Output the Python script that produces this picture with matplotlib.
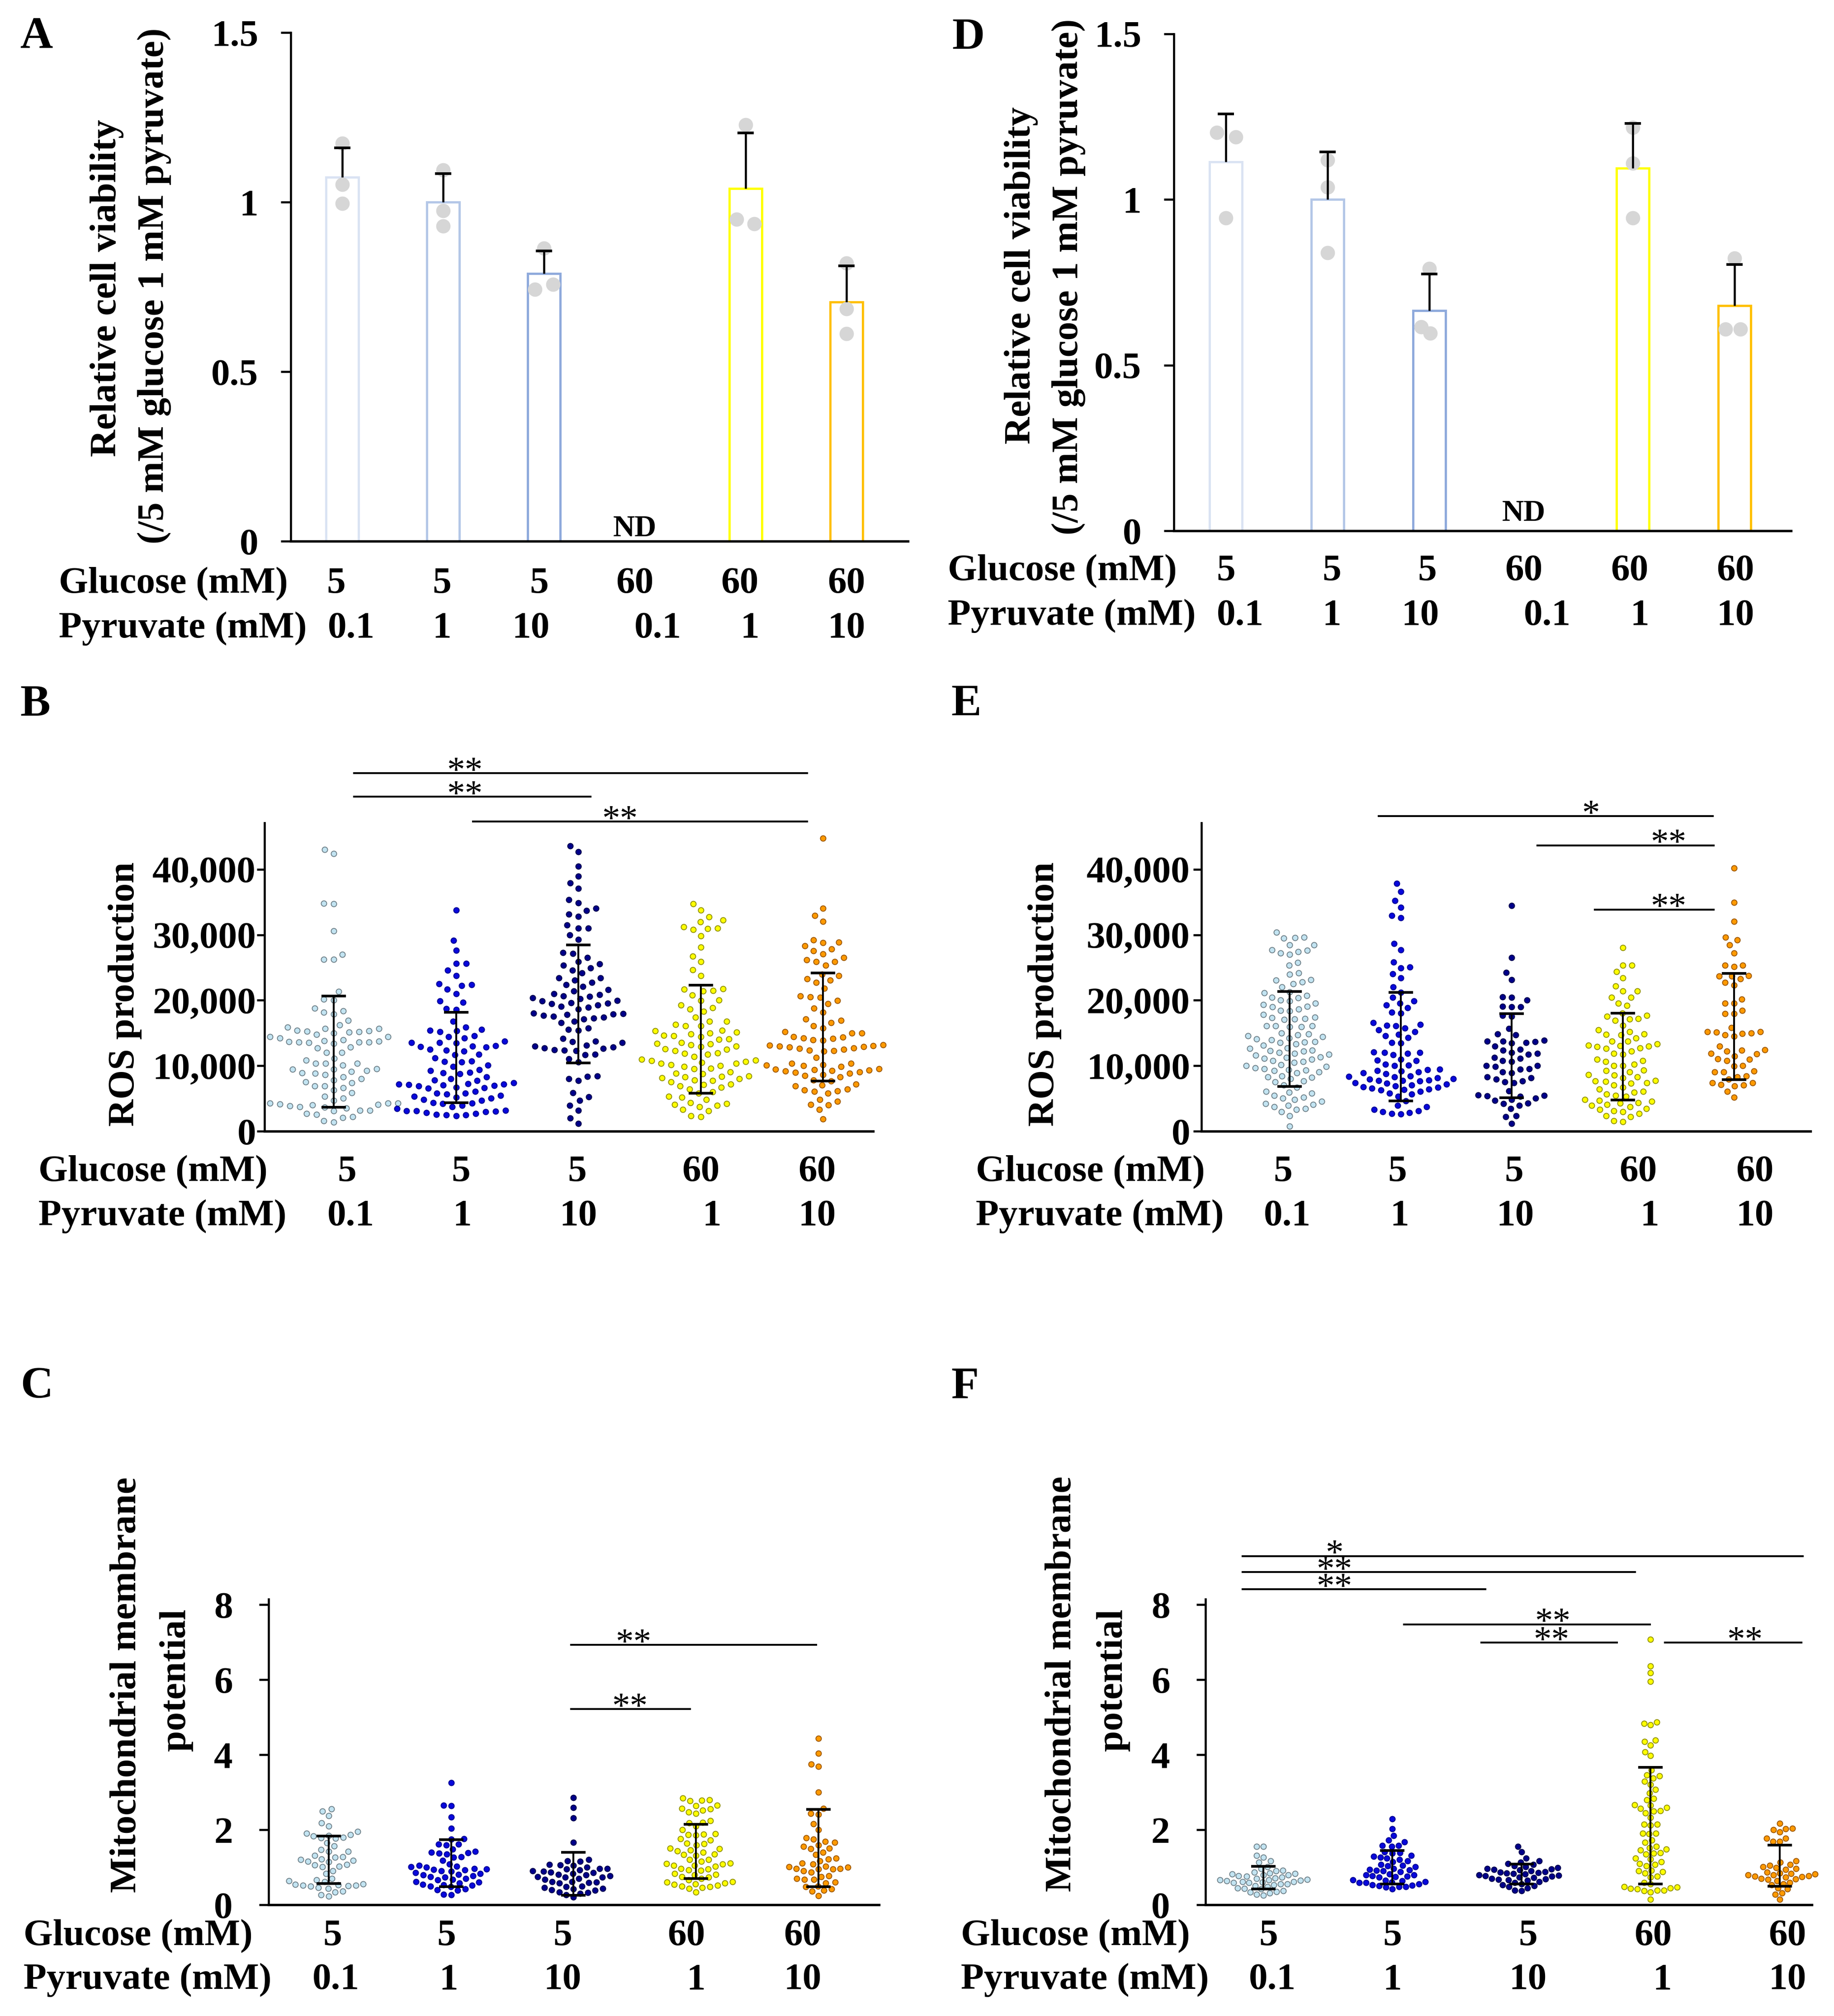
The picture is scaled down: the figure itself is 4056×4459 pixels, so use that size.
import numpy as np
import matplotlib
matplotlib.use("Agg")
import matplotlib.pyplot as plt
from matplotlib import transforms

plt.rcParams['font.family'] = ['Liberation Serif', 'DejaVu Serif']
plt.rcParams['font.weight'] = 'bold'

# ---------------------------------------------------------------- data
glucose6 = ['5', '5', '5', '60', '60', '60']
pyruvate6 = ['0.1', '1', '10', '0.1', '1', '10']
glucose5 = ['5', '5', '5', '60', '60']
pyruvate5 = ['0.1', '1', '10', '1', '10']

# Panel A: relative cell viability (ND = not determined -> nan)
A_mean = [1.074, 1.0, 0.79, np.nan, 1.04, 0.706]
A_err = [0.086, 0.084, 0.066, np.nan, 0.164, 0.106]
A_pts = [[1.173, 1.052, 0.996], [1.095, 0.975, 0.93], [0.864, 0.743, 0.757], [],
         [1.228, 0.95, 0.936], [0.82, 0.686, 0.612]]

# Panel D
D_mean = [1.114, 1.0, 0.665, np.nan, 1.094, 0.68]
D_err = [0.144, 0.144, 0.11, np.nan, 0.136, 0.124]
D_pts = [[1.203, 1.189, 0.944], [1.119, 1.037, 0.839], [0.792, 0.615, 0.596], [],
         [1.217, 1.109, 0.944], [0.823, 0.609, 0.609]]

# Panel B: ROS production
B1 = [43040, 42410, 34810, 34740, 30580, 27010, 26260, 26260, 21350, 20190, 20030, 18780, 18370, 18150,
      17900, 16900, 16210, 15900, 15710, 15710, 15430, 15340, 15270, 15180, 15120, 14960, 14800, 14400,
      14400, 14240, 13930, 13830, 13710, 13680, 13620, 13620, 13620, 13520, 13400, 12830, 12680, 12050,
      12050, 11110, 10860, 10390, 10390, 10330, 10080, 9550, 9450, 9450, 9230, 9140, 8920, 8830, 8610,
      8290, 7980, 7830, 7510, 7420, 6890, 6890, 6640, 6260, 5850, 5320, 5070, 4700, 4290, 4290, 4290,
      4130, 4070, 3980, 3850, 3760, 3690, 3510, 3190, 3190, 3130, 2660, 2570, 2190, 2100, 1570, 1410]
B2 = [33770, 29110, 27640, 25600, 25600, 24570, 23790, 22540, 22380, 22220, 21690, 20970, 19880, 19660,
      18690, 18560, 16750, 15900, 15560, 15430, 15340, 15180, 14550, 14460, 14240, 13710, 13520, 13520,
      13460, 13050, 12990, 12900, 12830, 12520, 12360, 12210, 11740, 11640, 11210, 10700, 10640, 10550,
      10080, 9860, 9390, 9230, 8980, 8920, 8760, 8290, 8040, 7830, 7730, 7420, 7260, 7200, 7200, 7110,
      7040, 6950, 6890, 6730, 6640, 6570, 6100, 5790, 5790, 5630, 5480, 5320, 5160, 5010, 4850, 4700,
      4380, 4290, 4230, 3910, 3760, 3440, 3190, 3130, 3130, 3040, 2970, 2820, 2660, 2570, 2500, 2500, 2350]
B3 = [43570, 42660, 40470, 38940, 37940, 37120, 35370, 34900, 34020, 33710, 33180, 32800, 31460, 30990,
      30990, 29990, 29270, 27290, 27140, 26510, 25890, 25570, 25320, 24950, 24570, 24160, 23440, 23410,
      23070, 22690, 22380, 22130, 21600, 21440, 20970, 20880, 20660, 20560, 20350, 20250, 19940, 19880,
      19630, 19560, 19470, 19250, 19090, 18940, 18620, 18000, 17930, 17900, 17840, 17680, 17530, 17370,
      17280, 17120, 16810, 16590, 15740, 15560, 15430, 14180, 13770, 13680, 13520, 13150, 12990, 12830,
      12680, 12610, 12430, 12360, 12270, 11740, 11640, 11020, 10550, 8450, 8360, 8040, 7730, 5850, 5230,
      4700, 3910, 3190, 2030, 1190]
B4 = [34740, 33770, 32710, 32240, 31960, 31210, 30990, 30920, 30830, 29830, 28080, 26760, 25890, 24660,
      23790, 21750, 21690, 21500, 21440, 20810, 20030, 19970, 19250, 18870, 18620, 18310, 17370, 16810,
      16750, 16280, 16120, 16060, 15430, 15340, 15120, 14960, 14870, 14620, 14550, 14460, 14090, 13990,
      13520, 13400, 13300, 13210, 12990, 12900, 12580, 12520, 12300, 11960, 11890, 11740, 11420, 10960,
      10860, 10740, 10640, 10490, 10390, 10330, 10170, 10020, 9860, 9610, 9550, 9080, 8860, 8760, 8450,
      8360, 8290, 8140, 8040, 7830, 7730, 7510, 7200, 7110, 6890, 6730, 6420, 6040, 5790, 5320, 5160,
      4850, 4380, 4230, 4070, 3910, 3760, 3290, 3130, 2350, 2190]
B5 = [44760, 34020, 32930, 32020, 29200, 28890, 28800, 28330, 27860, 27540, 27070, 26540, 26140, 25890,
      25890, 25350, 23940, 23790, 23260, 23070, 22690, 21820, 20660, 20500, 20440, 19940, 19470, 18780,
      18150, 17120, 16900, 16590, 16120, 15740, 15180, 15020, 14960, 14400, 14340, 14240, 14180, 13930,
      13870, 13210, 13150, 13050, 12990, 12900, 12830, 12680, 12610, 12520, 12360, 12300, 12210, 11270,
      10390, 10330, 10170, 10080, 10020, 9860, 9550, 9450, 9390, 9300, 9230, 9170, 9080, 8980, 8830,
      8610, 8510, 8290, 7830, 7670, 7200, 7040, 6890, 6420, 6260, 6170, 6100, 5790, 4850, 4540, 4070,
      3980, 3290, 1880]
B_mean = [12175, 11235, 19420, 14040, 15930]
B_sd = [8485, 6915, 9000, 8250, 8260]

# Panel E: ROS production
E1 = [30360, 29640, 29580, 29520, 28480, 28480, 27700, 27610, 27450, 27230, 27010, 25760, 25320, 24190,
      23940, 23160, 23070, 22790, 22540, 22000, 21280, 21130, 20720, 20440, 20350, 20030, 19880, 19560,
      19310, 19090, 19000, 18620, 18470, 18370, 17840, 17430, 17310, 17220, 17120, 17060, 16120, 16120,
      16060, 15960, 15960, 15020, 14870, 14710, 14550, 14400, 14240, 14090, 13930, 13680, 13620, 13550,
      13300, 13150, 12740, 12610, 12360, 12270, 12210, 12050, 11890, 11740, 11580, 11360, 11270, 11110,
      10960, 10800, 10640, 10490, 10170, 10020, 9860, 9700, 9550, 9390, 9300, 9230, 9080, 8920, 8450,
      8290, 8230, 7980, 7670, 7510, 7040, 6730, 6100, 5950, 5790, 5480, 5160, 5010, 4850, 4540, 4230,
      4070, 3910, 3760, 3440, 3290, 2970, 2350, 780]
E2 = [37840, 36590, 35240, 34180, 32960, 32580, 28640, 27670, 25820, 25100, 24950, 24010, 23380, 22000,
      21190, 20410, 19880, 19560, 19250, 18870, 18150, 18000, 16590, 16280, 16180, 16120, 15740, 15490,
      15180, 14800, 14550, 14300, 13550, 13460, 12110, 12050, 11990, 11890, 11670, 10960, 10860, 10800,
      10240, 10080, 10020, 9480, 9390, 9230, 9170, 9080, 8920, 8760, 8450, 8360, 8290, 8140, 8040, 7920,
      7830, 7760, 7730, 7670, 7360, 7290, 7200, 7040, 6890, 6790, 6730, 6570, 6420, 6350, 6260, 6100,
      5790, 5630, 5320, 4600, 3910, 3760, 3290, 3130, 2970, 2820, 2660, 2600]
E3 = [34490, 26540, 24260, 23160, 20500, 20440, 20030, 19090, 19000, 19000, 17680, 17530, 15650, 14870,
      14710, 13870, 13770, 13770, 13680, 13550, 13460, 12990, 12520, 12360, 12050, 11890, 11740, 11270,
      11110, 10800, 10640, 10020, 10020, 9860, 9550, 9480, 9080, 8920, 8290, 8140, 7920, 7670, 7510,
      7360, 6170, 5540, 5480, 5410, 5320, 5010, 4850, 4700, 4290, 4230, 3910, 3440, 2350, 2190, 1160]
E4 = [28010, 25350, 25350, 24350, 23380, 22190, 21380, 21380, 20440, 20440, 19560, 19190, 18000, 17680,
      17530, 17220, 17120, 16900, 16180, 15490, 15180, 14870, 14800, 14710, 14240, 13770, 13770, 13300,
      13150, 13050, 12990, 12930, 12680, 12610, 12210, 11890, 11740, 10960, 10800, 10640, 10240, 10020,
      10020, 9300, 9230, 9080, 8610, 8540, 8290, 8140, 7730, 7670, 7610, 7360, 7290, 7040, 6730, 6420,
      6100, 5950, 5630, 5480, 5320, 4850, 4700, 4540, 4380, 4290, 4070, 3910, 3760, 3440, 3290, 3130,
      2970, 2660, 2350, 2190, 1570, 1470]
E5 = [40220, 34960, 32020, 29640, 29200, 28420, 27200, 25350, 25350, 25130, 23790, 23690, 23690, 23260,
      22690, 22290, 20190, 19560, 19560, 18470, 17930, 17930, 15810, 15180, 15180, 15120, 15020, 14930,
      14710, 14490, 12990, 12430, 12360, 12210, 11890, 11800, 11490, 11050, 10960, 10800, 10020, 9920,
      9170, 9080, 9080, 8450, 8290, 7920, 7420, 7360, 7110, 7040, 6890, 6100, 5160]
E_mean = [14085, 12895, 11515, 11395, 15995]
E_sd = [7265, 8295, 6415, 6605, 8105]

# Panel C: mitochondrial membrane potential
C1 = [2.56, 2.49, 2.37, 2.18, 2.10, 1.95, 1.91, 1.87, 1.85, 1.83, 1.80, 1.78, 1.77, 1.65, 1.57, 1.47,
      1.42, 1.42, 1.32, 1.28, 1.26, 1.22, 1.20, 1.18, 1.16, 1.14, 1.07, 1.06, 1.03, 1.01, 0.91, 0.83,
      0.70, 0.66, 0.64, 0.62, 0.56, 0.54, 0.53, 0.52, 0.52, 0.51, 0.50, 0.46, 0.44, 0.36, 0.34, 0.27, 0.23]
C2 = [3.25, 2.65, 2.64, 2.34, 2.04, 1.76, 1.75, 1.62, 1.61, 1.59, 1.48, 1.42, 1.40, 1.39, 1.37, 1.35,
      1.28, 1.26, 1.18, 1.09, 1.05, 1.03, 1.01, 1.00, 0.97, 0.95, 0.94, 0.93, 0.91, 0.89, 0.85, 0.83,
      0.81, 0.79, 0.77, 0.75, 0.73, 0.70, 0.68, 0.66, 0.62, 0.60, 0.58, 0.54, 0.53, 0.52, 0.50, 0.48,
      0.42, 0.40, 0.38, 0.28, 0.27]
C3 = [2.86, 2.59, 2.31, 1.66, 1.20, 1.17, 1.16, 1.07, 1.06, 1.05, 1.00, 0.97, 0.96, 0.95, 0.93, 0.91,
      0.89, 0.87, 0.86, 0.83, 0.81, 0.79, 0.77, 0.75, 0.73, 0.73, 0.70, 0.68, 0.62, 0.61, 0.60, 0.59,
      0.58, 0.50, 0.48, 0.46, 0.44, 0.42, 0.40, 0.38, 0.34, 0.32, 0.30, 0.27, 0.20]
C4 = [2.84, 2.80, 2.78, 2.77, 2.65, 2.64, 2.57, 2.55, 2.52, 2.47, 2.43, 2.24, 2.20, 2.18, 2.10, 2.00,
      1.89, 1.88, 1.87, 1.86, 1.76, 1.73, 1.64, 1.63, 1.59, 1.51, 1.50, 1.46, 1.44, 1.40, 1.35, 1.34,
      1.32, 1.21, 1.20, 1.16, 1.11, 1.10, 1.09, 1.05, 1.05, 1.03, 0.97, 0.95, 0.93, 0.92, 0.83, 0.81,
      0.80, 0.75, 0.73, 0.70, 0.66, 0.62, 0.60, 0.58, 0.56, 0.54, 0.52, 0.50, 0.48, 0.46, 0.44, 0.34]
C5 = [4.44, 4.04, 3.75, 3.69, 3.00, 2.57, 2.44, 2.41, 2.16, 2.00, 1.79, 1.75, 1.69, 1.66, 1.59, 1.55,
      1.51, 1.50, 1.40, 1.34, 1.24, 1.22, 1.17, 1.11, 1.09, 1.03, 1.01, 1.00, 0.97, 0.96, 0.95, 0.95,
      0.91, 0.87, 0.77, 0.75, 0.70, 0.68, 0.68, 0.60, 0.58, 0.50, 0.48, 0.42, 0.38, 0.36, 0.24]
C_mean = [1.20, 1.11, 0.825, 1.425, 1.51]
C_sd = [0.63, 0.63, 0.575, 0.725, 1.03]

# Panel F: mitochondrial membrane potential
F1 = [1.55, 1.55, 1.31, 1.27, 1.17, 1.13, 1.01, 0.96, 0.92, 0.90, 0.87, 0.84, 0.83, 0.82, 0.80, 0.79,
      0.77, 0.76, 0.73, 0.71, 0.70, 0.68, 0.66, 0.66, 0.65, 0.64, 0.62, 0.62, 0.60, 0.59, 0.59, 0.56,
      0.55, 0.53, 0.51, 0.48, 0.45, 0.43, 0.42, 0.37, 0.35, 0.34, 0.31, 0.28, 0.25]
F2 = [2.29, 2.02, 1.84, 1.72, 1.67, 1.58, 1.58, 1.56, 1.41, 1.39, 1.38, 1.32, 1.29, 1.27, 1.24, 1.21,
      1.17, 1.15, 1.07, 1.05, 1.04, 1.01, 0.96, 0.94, 0.93, 0.92, 0.90, 0.88, 0.82, 0.79, 0.79, 0.77,
      0.76, 0.75, 0.73, 0.66, 0.65, 0.64, 0.62, 0.60, 0.59, 0.59, 0.56, 0.53, 0.52, 0.51, 0.48, 0.48,
      0.47, 0.42]
F3 = [1.56, 1.41, 1.24, 1.17, 1.13, 1.10, 1.07, 1.04, 1.01, 0.99, 0.96, 0.95, 0.94, 0.93, 0.90, 0.88,
      0.87, 0.85, 0.84, 0.83, 0.82, 0.79, 0.78, 0.77, 0.76, 0.73, 0.72, 0.70, 0.69, 0.68, 0.66, 0.65,
      0.62, 0.59, 0.56, 0.53, 0.51, 0.48, 0.45, 0.39, 0.37]
F4 = [7.08, 6.37, 6.18, 5.95, 4.87, 4.83, 4.80, 4.39, 4.35, 4.26, 4.08, 3.98, 3.59, 3.46, 3.43, 3.38,
      3.29, 3.21, 3.08, 2.98, 2.83, 2.80, 2.66, 2.65, 2.59, 2.57, 2.51, 2.49, 2.45, 2.33, 2.14, 2.14,
      2.12, 1.91, 1.90, 1.89, 1.72, 1.66, 1.55, 1.52, 1.48, 1.46, 1.39, 1.38, 1.35, 1.24, 1.22, 1.15,
      1.10, 1.07, 1.04, 0.92, 0.90, 0.88, 0.84, 0.76, 0.74, 0.59, 0.55, 0.48, 0.47, 0.45, 0.43, 0.42,
      0.39, 0.38, 0.37, 0.34, 0.14]
F5 = [2.17, 2.04, 2.03, 2.00, 1.94, 1.77, 1.77, 1.69, 1.69, 1.17, 1.13, 1.07, 1.05, 1.01, 0.99, 0.96,
      0.94, 0.87, 0.84, 0.83, 0.82, 0.80, 0.79, 0.77, 0.76, 0.75, 0.73, 0.70, 0.69, 0.68, 0.64, 0.59,
      0.56, 0.53, 0.45, 0.42, 0.31, 0.28, 0.14]
F_mean = [0.725, 1.005, 0.815, 2.11, 1.045]
F_sd = [0.305, 0.445, 0.265, 1.56, 0.545]

# significance brackets: (x start, x end, y, label); star x positions kept separately (layout)
B_sig = [(0.166, 3.87, 54700, '**'), (0.166, 2.10, 51100, '**'), (1.14, 3.87, 47300, '**')]
E_sig = [(0.80, 3.81, 48140, '*'), (2.23, 3.82, 43660, '**'), (2.75, 3.82, 33870, '**')]
C_sig = [(1.98, 3.98, 6.93, '**'), (1.98, 2.95, 5.22, '**')]
F_sig = [(-0.16, 4.18, 9.30, '*'), (-0.16, 2.88, 8.87, '**'), (-0.16, 1.72, 8.41, '**'),
         (1.09, 2.995, 7.48, '**'), (1.69, 2.74, 6.99, '**'), (3.11, 4.17, 6.99, '**')]
B_star_x = [1.07, 1.07, 2.34]
E_star_x = [2.71, 3.41, 3.41]
C_star_x = [2.49, 2.46]
F_star_x = [0.55, 0.55, 0.55, 2.24, 2.23, 3.73]

# ---------------------------------------------------------------- style
BAR_EDGE = ['#dae3f3', '#b4c7e7', '#8faadc', '#cccccc', '#ffff00', '#ffc000']
SW_FACE = ['#c2e4f2', '#0808dc', '#00008a', '#ffff00', '#ff9a00']
SW_EDGE = ['#6f8088', '#000090', '#00004a', '#8f8f00', '#9c5600']

W, H, DPI = 4056, 4459, 300
fig = plt.figure(figsize=(W / DPI, H / DPI), dpi=DPI)
FS = 20
ROW_SHIFT = -10   # px


def add_axes_px(left, right, top, bottom):
    return fig.add_axes([left / W, 1 - bottom / H, (right - left) / W, (bottom - top) / H])


def ftext(x, y, s, **kw):
    fig.text(x / W, 1 - y / H, s, **kw)


def style_axes(ax, ticks, labels, ticklen, pad):
    for s in ['top', 'right']:
        ax.spines[s].set_visible(False)
    ax.spines['left'].set_linewidth(1.1)
    ax.spines['bottom'].set_linewidth(1.3)
    ax.set_xticks([])
    ax.set_yticks(ticks)
    ax.set_yticklabels(labels, fontsize=FS, fontweight='bold')
    ax.tick_params(axis='y', direction='out', length=ticklen, width=1.1, pad=pad)


def category_rows(ax, left_px, gl_y, py_y, glu, pyr, gx, px):
    gl_y += ROW_SHIFT
    py_y += ROW_SHIFT
    tr = transforms.blended_transform_factory(ax.transData, fig.transFigure)
    ftext(left_px, gl_y, 'Glucose (mM)', fontsize=FS, fontweight='bold', ha='left', va='baseline')
    ftext(left_px, py_y, 'Pyruvate (mM)', fontsize=FS, fontweight='bold', ha='left', va='baseline')
    for lab, x in zip(glu, gx):
        ax.text(x, 1 - gl_y / H, lab, transform=tr, fontsize=FS, fontweight='bold',
                ha='center', va='baseline')
    for lab, x in zip(pyr, px):
        ax.text(x, 1 - py_y / H, lab, transform=tr, fontsize=FS, fontweight='bold',
                ha='center', va='baseline')


def bar_panel(rect, xlim, means, errs, pts, offs, nd_x, nd_y):
    ax = add_axes_px(*rect)
    ax.set_xlim(*xlim)
    ax.set_ylim(0, 1.5)
    style_axes(ax, [0, 0.5, 1, 1.5], ['0', '0.5', '1', '1.5'], 5.2, 12)
    for i, (m, e) in enumerate(zip(means, errs)):
        if np.isnan(m):
            ax.text(i + nd_x, nd_y, 'ND', fontsize=16, fontweight='bold', ha='center', va='baseline')
            continue
        ax.bar(i, m, width=0.32, facecolor='white', edgecolor=BAR_EDGE[i], linewidth=1.2, zorder=2)
        ax.scatter(np.full(len(pts[i]), i) + np.array(offs[i]), pts[i], s=58, color='#d6d6d6',
                   linewidths=0, zorder=3, clip_on=False)
        ax.vlines(i, m, m + e, color='black', linewidth=1.1, zorder=4)
        ax.plot([i], [m + e], marker='_', ms=8.5, mew=1.4, color='black', zorder=4)
    return ax


def beeswarm_x(ax, xc, vals, dmin):
    p0 = ax.transData.transform((0, 0))
    p1 = ax.transData.transform((1, 1))
    sx, sy = p1[0] - p0[0], p1[1] - p0[1]
    ypx = np.asarray(vals, float) * sy
    order = np.argsort(ypx)
    px, py = [], []
    xs = np.zeros(len(ypx))
    for i in order:
        y = ypx[i]
        cands = [0.0]
        for a, b in zip(px, py):
            dy = abs(b - y)
            if dy < dmin:
                dx = np.sqrt(dmin ** 2 - dy ** 2)
                cands += [a + dx, a - dx]
        cands.sort(key=lambda c: (abs(c), c))
        chosen = 0.0
        for c in cands:
            if all((c - a) ** 2 + (y - b) ** 2 >= dmin ** 2 - 1e-6 for a, b in zip(px, py)):
                chosen = c
                break
        px.append(chosen)
        py.append(y)
        xs[i] = chosen
    return xc + xs / sx


def swarm_panel(rect, xlim, ylim, groups, means, sds, ticks, labels, ticklen, pad, sig, star_x, dmin):
    ax = add_axes_px(*rect)
    ax.set_xlim(*xlim)
    ax.set_ylim(*ylim)
    style_axes(ax, ticks, labels, ticklen, pad)
    for i, g in enumerate(groups):
        xs = beeswarm_x(ax, i, g, dmin)
        ax.scatter(xs, g, s=8.5, facecolor=SW_FACE[i], edgecolor=SW_EDGE[i], linewidths=0.45,
                   zorder=2, clip_on=False)
    ax.errorbar(range(len(means)), means, yerr=sds, fmt='none', ecolor='black', elinewidth=1.0,
                capsize=6.5, capthick=1.4, zorder=3)
    for (x0, x1, y, lab), sxp in zip(sig, star_x):
        ax.plot([x0, x1], [y, y], color='black', lw=1.0, clip_on=False, zorder=4)
        ax.annotate(lab, xy=(sxp, y), xytext=(0, -4), textcoords='offset points',
                    fontsize=19, fontweight='normal', ha='center', va='baseline',
                    annotation_clip=False)
    return ax


# ---------------------------------------------------------------- A & D
axA = bar_panel((643, 2008, 72, 1197), (-0.511, 5.61), A_mean, A_err, A_pts,
                [[0, 0, 0], [0, 0, 0], [0, -0.09, 0.09], [], [0, -0.09, 0.085], [0, 0, 0]],
                -0.1, 0.015)
category_rows(axA, 130, 1321, 1420, glucose6, pyruvate6,
              [-0.06, 0.99, 1.95, 2.90, 3.94, 5.0], [0.09, 0.99, 1.87, 3.13, 4.04, 5.0])
ftext(237, 637, 'Relative cell viability', fontsize=FS, fontweight='bold', rotation=90,
      ha='center', va='center')
ftext(341, 632, '(/5 mM glucose 1 mM pyruvate)', fontsize=FS, fontweight='bold', rotation=90,
      ha='center', va='center')

axD = bar_panel((2596, 3961, 75, 1174), (-0.511, 5.556), D_mean, D_err, D_pts,
                [[-0.09, 0.1, 0], [0, 0, 0], [0, -0.08, 0.01], [], [0, 0, 0], [0, -0.09, 0.06]],
                -0.07, 0.03)
category_rows(axD, 2096, 1293, 1392, glucose6, pyruvate6,
              [0.0, 1.04, 1.98, 2.93, 3.97, 5.01], [0.14, 1.04, 1.91, 3.16, 4.07, 5.01])
ftext(2259, 609, 'Relative cell viability', fontsize=FS, fontweight='bold', rotation=90,
      ha='center', va='center')
ftext(2363, 612, '(/5 mM glucose 1 mM pyruvate)', fontsize=FS, fontweight='bold', rotation=90,
      ha='center', va='center')

# ---------------------------------------------------------------- B & E
ros_ticks = [0, 10000, 20000, 30000, 40000]
ros_labels = ['0', '10,000', '20,000', '30,000', '40,000']
axB = swarm_panel((585, 1931, 1820, 2502), (-0.566, 4.41), (0, 47100), [B1, B2, B3, B4, B5],
                  B_mean, B_sd, ros_ticks, ros_labels, 4.0, 0.5, B_sig, B_star_x, 22)
category_rows(axB, 85, 2622, 2720, glucose5, pyruvate5,
              [0.107, 1.04, 1.99, 3.0, 3.95], [0.14, 1.05, 2.0, 3.09, 3.95])
ftext(276, 2199, 'ROS production', fontsize=FS, fontweight='bold', rotation=90,
      ha='center', va='center')

axE = swarm_panel((2657, 4004, 1820, 2502), (-0.794, 4.69), (0, 47100), [E1, E2, E3, E4, E5],
                  E_mean, E_sd, ros_ticks, ros_labels, 4.3, 1.7, E_sig, E_star_x, 20)
category_rows(axE, 2158, 2622, 2720, glucose5, pyruvate5,
              [-0.06, 0.97, 2.02, 3.14, 4.19], [-0.02, 0.99, 2.03, 3.24, 4.19])
ftext(2310, 2199, 'ROS production', fontsize=FS, fontweight='bold', rotation=90,
      ha='center', va='center')

# ---------------------------------------------------------------- C & F
mmp_ticks = [0, 2, 4, 6, 8]
mmp_labels = ['0', '2', '4', '6', '8']
axC = swarm_panel((594, 1944, 3537, 4213), (-0.491, 4.495), (0, 8.15), [C1, C2, C3, C4, C5],
                  C_mean, C_sd, mmp_ticks, mmp_labels, 5.0, 14, C_sig, C_star_x, 17)
category_rows(axC, 52, 4312, 4409, glucose5, pyruvate5,
              [0.03, 0.96, 1.91, 2.92, 3.87], [0.06, 0.98, 1.91, 3.0, 3.87])
ftext(280, 3726, 'Mitochondrial membrane', fontsize=FS, fontweight='bold', rotation=90,
      ha='center', va='center')
ftext(390, 3716, 'potential', fontsize=FS, fontweight='bold', rotation=90, ha='center', va='center')

axF = swarm_panel((2666, 4007, 3537, 4213), (-0.448, 4.249), (0, 8.15), [F1, F2, F3, F4, F5],
                  F_mean, F_sd, mmp_ticks, mmp_labels, 4.8, 14, F_sig, F_star_x, 15)
category_rows(axF, 2125, 4312, 4409, glucose5, pyruvate5,
              [0.04, 1.0, 2.05, 3.02, 4.06], [0.07, 1.0, 2.05, 3.09, 4.06])
ftext(2348, 3724, 'Mitochondrial membrane', fontsize=FS, fontweight='bold', rotation=90,
      ha='center', va='center')
ftext(2462, 3716, 'potential', fontsize=FS, fontweight='bold', rotation=90, ha='center', va='center')

# ---------------------------------------------------------------- panel letters
for lab, x, y in [('A', 81, 106), ('D', 2141, 107), ('B', 78, 1582), ('E', 2137, 1582),
                  ('C', 81, 3091), ('F', 2134, 3091)]:
    ftext(x, y, lab, fontsize=24, fontweight='bold', ha='center', va='baseline')

fig.savefig('out.png', dpi=DPI)
